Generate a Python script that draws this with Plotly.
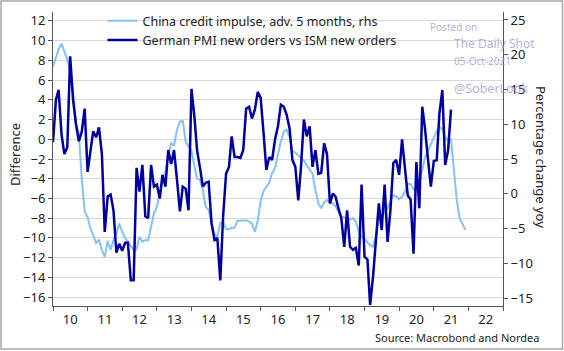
import pandas as pd
import plotly.graph_objects as go

# German PMI new orders vs ISM new orders (lhs), monthly from Jan 2010
german = [
    -0.3, 4.0, 5.0, 0.5, -1.5, -0.8, 8.4, 4.0, 1.5, -0.2, 0.8, 3.1,
    -3.3, -1.0, 0.8, 0.2, 1.2, -1.5, -9.4, -5.8, -5.6, -7.2, -11.5, -10.6,
    -11.3, -10.5, -10.5, -14.3, -14.3, -2.9, -5.3, -2.6, -7.8, -8.0, -2.6, -4.8,
    -4.6, -6.0, -3.6, -4.8, -1.1, -2.5, -1.1, -4.1, -7.3, -4.8, -5.0, -7.2,
    5.1, 2.3, -1.1, -2.9, -4.8, -4.4, -4.3, -8.5, -10.2, -10.0, -14.3, -7.8,
    -3.5, -2.8, 0.3, -1.8, -1.8, -1.9, -1.1, 3.1, 3.3, 2.1, 3.0, 4.8,
    4.2, 0.6, -3.1, -1.8, -2.1, 0.0, 1.3, 3.5, 3.3, 2.5, 1.1, -2.1,
    -2.8, -6.2, -2.9, 2.0, 0.3, 1.3, -2.8, -1.1, -3.5, -3.4, -0.4, -1.5,
    -6.5, -5.5, -5.8, -7.0, -8.0, -10.9, -7.2, -10.9, -11.2, -11.0, -12.8, -4.6,
    -11.9, -12.2, -16.8, -13.9, -9.9, -6.5, -9.2, -4.6, -10.4, -7.2, -2.4, -2.1,
    -3.6, 0.0, -2.8, -5.7, -6.1, -11.6, -2.3, -7.0, 3.3, 1.0, -2.1, -4.8,
    -2.2, -2.1, 2.6, 5.0, -2.6, -1.1, 3.0,
]

# China credit impulse, adv. 5 months (rhs), monthly from Jan 2010
china = [
    18.3, 19.8, 20.8, 21.6, 20.5, 19.3, 17.5, 14.5, 10.0, 8.7, 2.0, -2.5,
    -3.4, -5.0, -6.0, -7.1, -6.6, -8.1, -9.1, -6.8, -8.1, -6.6, -5.7, -4.3,
    -5.5, -6.4, -6.9, -7.6, -8.1, -8.0, -6.2, -6.9, -6.7, -6.7, -4.7, -2.8,
    -1.9, 0.2, 2.0, 3.0, 5.5, 7.3, 6.9, 9.2, 10.4, 10.5, 7.5, 6.8,
    6.2, 4.0, 2.2, 2.0, 0.5, -1.9, -2.3, -4.3, -5.8, -6.2, -4.2, -4.0,
    -5.1, -5.1, -4.9, -4.9, -3.9, -3.9, -3.8, -3.8, -4.0, -4.3, -5.5, -3.9,
    -1.0, 0.4, 1.0, 1.6, 3.0, 3.7, 5.6, 7.5, 8.9, 9.2, 8.2, 6.2,
    5.9, 5.5, 5.2, 4.8, 4.1, 3.4, 2.9, 0.5, -1.4, -2.1, -1.2, -0.9,
    -1.3, -1.4, -1.8, -2.6, -3.3, -3.4, -3.6, -3.7, -3.5, -4.0, -5.4, -6.2,
    -6.5, -6.9, -7.4, -7.6, -6.0, -3.8, -3.6, -2.4, -2.1, -1.1, -0.2, -0.4,
    -0.8, -0.4, 0.2, 1.4, 1.4, 0.6, 0.6, 1.5, 3.6, 5.3, 6.2, 7.2,
    8.2, 9.0, 9.6, 9.3, 8.2, 7.6, 7.9, 3.5, -1.0, -3.6, -4.5, -5.2,
]

left_ticks = list(range(-16, 13, 2))
right_ticks = list(range(-15, 26, 5))

german_dates = pd.date_range("2010-01-01", periods=len(german), freq="MS")
china_dates = pd.date_range("2010-01-01", periods=len(china), freq="MS")

FONT = "Noto Sans"
DARK = "#0000A0"
LIGHT = "#86C0FA"
AX = "#555555"
TXT = "#222222"

fig = go.Figure()
fig.add_trace(go.Scatter(
    x=china_dates, y=china, mode="lines", yaxis="y",
    name="China credit impulse, adv. 5 months, rhs",
    line=dict(color=LIGHT, width=2),
))
fig.add_trace(go.Scatter(
    x=german_dates, y=german, mode="lines", yaxis="y2",
    name="German PMI new orders vs ISM new orders",
    line=dict(color=DARK, width=2.5),
))

fig.update_layout(
    width=564, height=351,
    margin=dict(l=53, r=61, t=12, b=45, autoexpand=False),
    paper_bgcolor="white", plot_bgcolor="white",
    font=dict(family=FONT, size=13, color=TXT),
    showlegend=True,
    legend=dict(
        x=0.11, y=1.0 + 6 / 294, xanchor="left", yanchor="top",
        bgcolor="rgba(0,0,0,0)", font=dict(size=12.5, color=TXT),
        itemwidth=30, tracegroupgap=0,
    ),
    xaxis=dict(
        type="date", range=["2010-01-01", "2023-01-01"],
        tick0="2010-01-01", dtick="M12", tickformat="%y",
        ticklabelmode="period", ticks="outside", ticklen=4,
        ticklabelstandoff=-3,
        tickcolor=AX, showline=True, linecolor=AX, linewidth=1,
        showgrid=False, zeroline=False,
    ),
    yaxis=dict(
        side="right", range=[-16.15, 26.15], tickvals=right_ticks,
        ticks="outside", ticklen=4, tickcolor=AX,
        showline=True, linecolor=AX, linewidth=1,
        showgrid=False, zeroline=False,
    ),
    yaxis2=dict(
        overlaying="y", side="left", range=[-16.9, 12.9], tickvals=left_ticks,
        ticks="outside", ticklen=4, tickcolor=AX,
        showline=True, linecolor=AX, linewidth=1,
        showgrid=True, gridcolor="#D9D9D9", gridwidth=1, zeroline=False,
    ),
)


def ypx(y):
    return 1 - (y - 12) / 294


def xpx(x):
    return (x - 53) / 450


# Axis titles
fig.add_annotation(text="Difference", xref="paper", yref="paper",
                   x=xpx(15), y=ypx(155), xanchor="center", yanchor="middle",
                   textangle=-90, showarrow=False,
                   font=dict(size=13, color=TXT))
fig.add_annotation(text="Percentage change yoy", xref="paper", yref="paper",
                   x=xpx(541), y=ypx(157), xanchor="center", yanchor="middle",
                   textangle=90, showarrow=False,
                   font=dict(size=13, color=TXT))

# Source
fig.add_annotation(text="Source: Macrobond and Nordea", xref="paper", yref="paper",
                   x=xpx(541), xanchor="right", y=ypx(337), yanchor="middle",
                   showarrow=False, font=dict(size=11, color=TXT))

# Watermark
WM = "rgba(150,150,200,0.75)"
fig.add_annotation(text="Posted on", x=xpx(428), y=ypx(27), xref="paper", yref="paper",
                   xanchor="left", yanchor="middle", showarrow=False,
                   font=dict(size=10, color=WM))
fig.add_annotation(text="The Daily Shot", x=xpx(452), y=ypx(43), xref="paper", yref="paper",
                   xanchor="left", yanchor="middle", showarrow=False,
                   font=dict(size=12, color=WM))
fig.add_annotation(text="05-Oct-2021", x=xpx(452), y=ypx(61), xref="paper", yref="paper",
                   xanchor="left", yanchor="middle", showarrow=False,
                   font=dict(size=10, color=WM))
fig.add_annotation(text="@SoberLook", x=xpx(452), y=ypx(89), xref="paper", yref="paper",
                   xanchor="left", yanchor="middle", showarrow=False,
                   font=dict(size=12.5, color=WM))

# Outer frame
fig.add_shape(type="rect", xref="paper", yref="paper",
              x0=xpx(1), x1=xpx(562.5), y0=ypx(349), y1=ypx(1),
              line=dict(color="#A6A6A6", width=1.5), fillcolor="rgba(0,0,0,0)",
              layer="below")

fig.write_html("out.html")
